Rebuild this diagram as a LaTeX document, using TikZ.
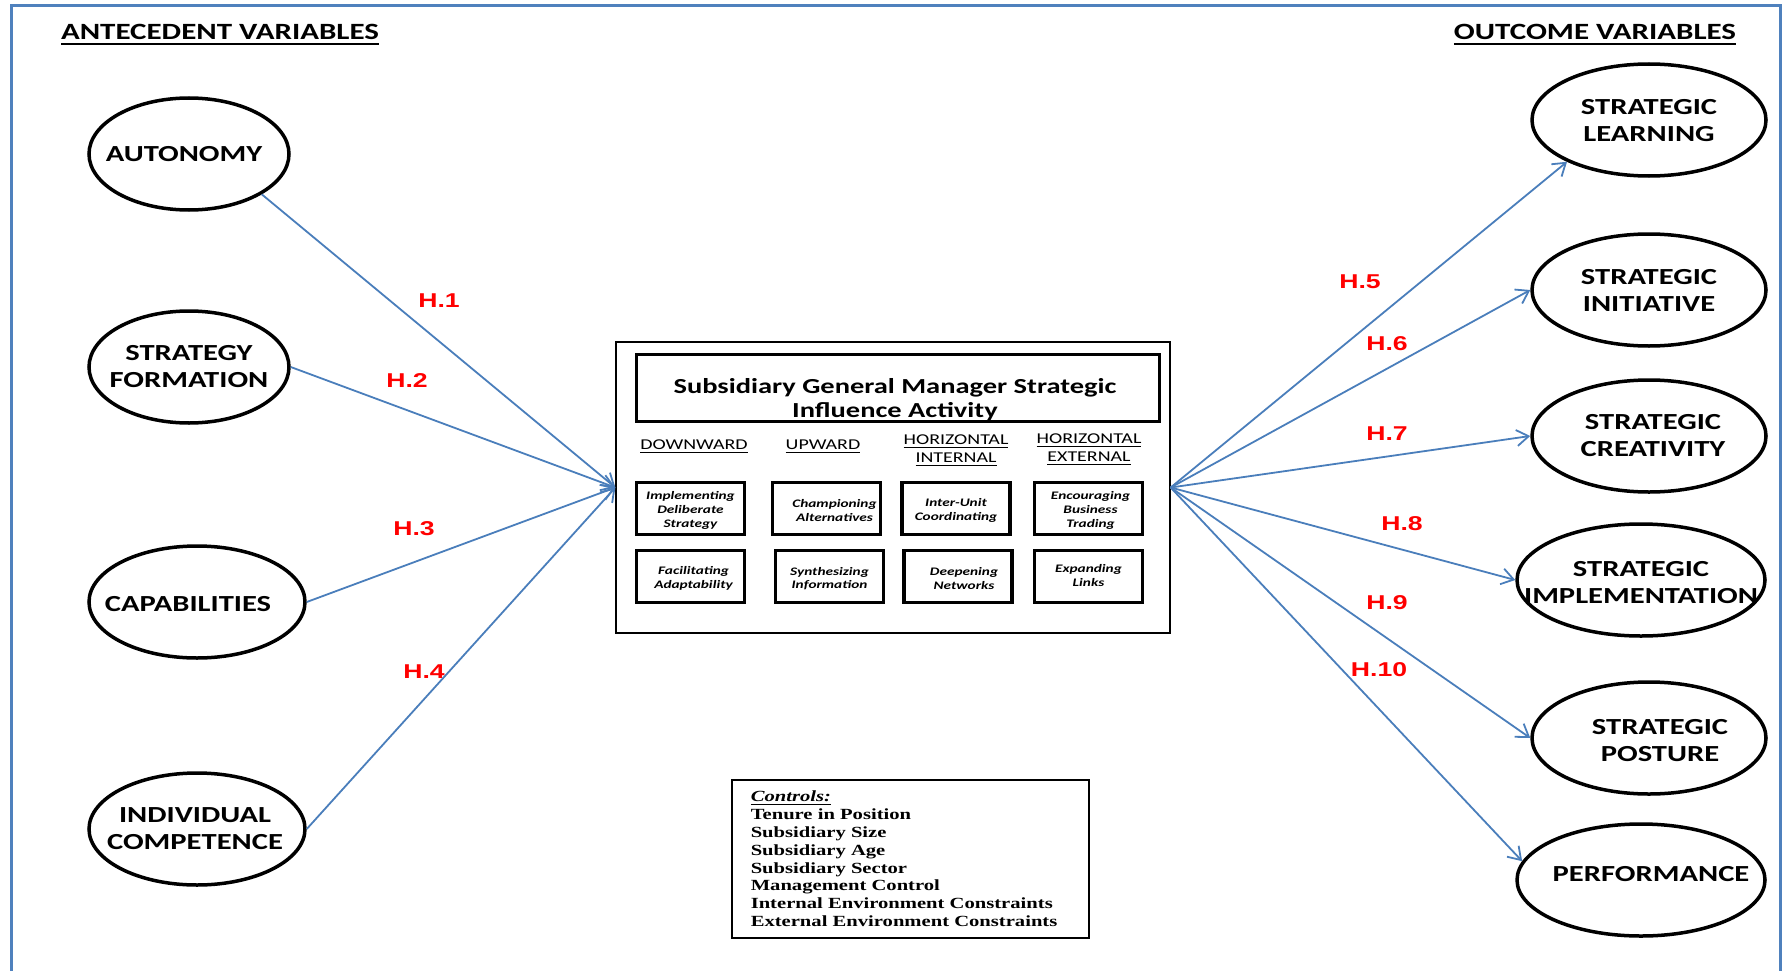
\documentclass[tikz,border=0pt]{standalone}
\usepackage{fontspec}
\setmainfont{Carlito}[FakeStretch=1.33]
\newfontfamily\hfont{Liberation Sans}[FakeStretch=1.33]
\newfontfamily\cfont{Liberation Serif}[FakeStretch=1.33]
\usetikzlibrary{arrows.meta,shapes.geometric}
\definecolor{linkblue}{RGB}{74,126,187}
\definecolor{frameblue}{RGB}{79,129,189}
\definecolor{hypred}{RGB}{255,0,0}
% underline with chosen rule thickness (#1) and gap below the baseline (#2)
\newcommand\undl[3]{\vtop{\hbox{#3}\kern#2\hrule height #1}}

\begin{document}
\begin{tikzpicture}[x=1pt,y=-1pt,
  oval/.style={ellipse, draw, line width=3.5pt, inner sep=0pt, minimum height=112pt},
  ovaltext/.style={align=center, inner sep=0pt, font=\fontsize{23}{27}\selectfont\bfseries},
  link/.style={draw=linkblue, line width=1.8pt,
    -{Straight Barb[length=12pt,width=16pt,line width=1.8pt]}},
  hyp/.style={text=hypred, inner sep=0pt, font=\hfont\fontsize{20}{24}\selectfont\bfseries},
  actbox/.style={draw, line width=3.3pt, minimum width=108pt, minimum height=52pt, inner sep=0pt},
  acttext/.style={align=center, inner sep=0pt, yshift=-2pt,
    font=\fontsize{11.5}{13.7}\selectfont\bfseries\itshape},
  colhead/.style={align=center, inner sep=0pt, font=\fontsize{15}{18}\selectfont},
  heading/.style={inner sep=0pt, anchor=base, font=\fontsize{23.3}{27}\selectfont\bfseries}]

\useasboundingbox (0,0) rectangle (1785,971);

% outer frame, open at the bottom
\draw[frameblue, line width=3pt] (11,975) -- (11,6) -- (1780,6) -- (1780,975);

% column headings
\node[heading] (antecedent) at (220,40) {\undl{2pt}{2.5pt}{ANTECEDENT VARIABLES}};
\node[heading] (outcome) at (1595,40) {\undl{2pt}{2.5pt}{OUTCOME VARIABLES}};

% antecedent variables
\node[oval, minimum width=200pt, label={[ovaltext,xshift=-5pt]center:AUTONOMY}] (autonomy) at (189,154) {};
\node[oval, minimum width=200pt, label={[ovaltext]center:{STRATEGY\\FORMATION}}] (formation) at (189,367) {};
\node[oval, minimum width=216pt, label={[ovaltext,xshift=-9pt,yshift=-2pt]center:CAPABILITIES}] (capabilities) at (197,602) {};
\node[oval, minimum width=216pt, label={[ovaltext,xshift=-2pt]center:{INDIVIDUAL\\COMPETENCE}}] (competence) at (197,829) {};

% outcome variables
\node[oval, minimum width=234pt, label={[ovaltext,yshift=-1pt]center:{STRATEGIC\\LEARNING}}] (learning) at (1649,120) {};
\node[oval, minimum width=234pt, label={[ovaltext]center:{STRATEGIC\\INITIATIVE}}] (initiative) at (1649,290) {};
\node[oval, minimum width=234pt, label={[ovaltext,xshift=4pt]center:{STRATEGIC\\CREATIVITY}}] (creativity) at (1649,436) {};
\node[oval, minimum width=248pt, label={[ovaltext,yshift=-3pt]center:{STRATEGIC\\IMPLEMENTATION}}] (implementation) at (1641,580) {};
\node[oval, minimum width=234pt, label={[ovaltext,xshift=11pt,yshift=-3pt]center:{STRATEGIC\\POSTURE}}] (posture) at (1649,738) {};
\node[oval, minimum width=248pt, label={[ovaltext,xshift=10pt,yshift=6pt]center:PERFORMANCE}] (performance) at (1641,880) {};

% central construct
\node[draw, line width=1.3pt, minimum width=554pt, minimum height=291pt, inner sep=0pt] (sgm) at (893,487.5) {};
\node[draw, line width=3.5pt, minimum width=523pt, minimum height=67pt, inner sep=0pt] (titlebox) at (898,388) {};
\node[align=center, inner sep=0pt, font=\fontsize{21.4}{24}\selectfont\bfseries] (title) at (895,400)
  {Subsidiary General Manager Strategic\\Influence Activity};

\node[colhead] (down) at (694,446) {\undl{1pt}{2.5pt}{DOWNWARD}};
\node[colhead] (up) at (823,446) {\undl{1pt}{2.5pt}{UPWARD}};
\node[colhead] (hint) at (956,450) {\undl{1pt}{2.5pt}{HORIZONTAL}\\\undl{1pt}{2.5pt}{INTERNAL}};
\node[colhead] (hext) at (1089,449) {\undl{1pt}{2.5pt}{HORIZONTAL}\\\undl{1pt}{2.5pt}{EXTERNAL}};

\node[actbox, label={[acttext]center:{Implementing\\Deliberate\\Strategy}}] (b11) at (690.5,508.5) {};
\node[actbox, label={[acttext,xshift=8pt]center:{Championing\\Alternatives}}] (b21) at (826.5,508.5) {};
\node[actbox, label={[acttext]center:{Inter-Unit\\Coordinating}}] (b31) at (956,508.5) {};
\node[actbox, label={[acttext,xshift=2pt]center:{Encouraging\\Business\\Trading}}] (b41) at (1088.5,508.5) {};
\node[actbox, label={[acttext,xshift=3pt]center:{Facilitating\\Adaptability}}] (b12) at (690.5,576.5) {};
\node[actbox, label={[acttext]center:{Synthesizing\\Information}}] (b22) at (829.5,576.5) {};
\node[actbox, label={[acttext,xshift=6pt]center:{Deepening\\Networks}}] (b32) at (958,576.5) {};
\node[actbox, label={[acttext,yshift=3pt]center:{Expanding\\Links}}] (b42) at (1088.5,576.5) {};

% control variables
\node[draw, line width=1.5pt, anchor=north west, inner xsep=19pt, inner ysep=7pt,
  text width=319pt, minimum height=158pt, align=left,
  font=\cfont\fontsize{15.5}{17.9}\selectfont\bfseries] (controls) at (731,779)
  {\undl{1.2pt}{2pt}{\itshape Controls:}\\
   Tenure in Position\\
   Subsidiary Size\\
   Subsidiary Age\\
   Subsidiary Sector\\
   Management Control\\
   Internal Environment Constraints\\
   External Environment Constraints};

% hypothesised paths
\draw[link] (autonomy.-29) -- (sgm.west);
\draw[link] (formation.east) -- (sgm.west);
\draw[link] (capabilities.east) -- (sgm.west);
\draw[link] (competence.east) -- (sgm.west);
\draw[link] (sgm.east) -- (learning.-153);
\draw[link] (sgm.east) -- (initiative.west);
\draw[link] (sgm.east) -- (creativity.west);
\draw[link] (sgm.east) -- (implementation.west);
\draw[link] (sgm.east) -- (posture.west);
\draw[link] (sgm.east) -- (performance.171);

\node[hyp] (h1) at (439,301) {H.1};
\node[hyp] (h2) at (407,381) {H.2};
\node[hyp] (h3) at (414,529) {H.3};
\node[hyp] (h4) at (424,672) {H.4};
\node[hyp] (h5) at (1360,282) {H.5};
\node[hyp] (h6) at (1387,344) {H.6};
\node[hyp] (h7) at (1387,434) {H.7};
\node[hyp] (h8) at (1402,524) {H.8};
\node[hyp] (h9) at (1387,603) {H.9};
\node[hyp] (h10) at (1379,670) {H.10};
\end{tikzpicture}
\end{document}
